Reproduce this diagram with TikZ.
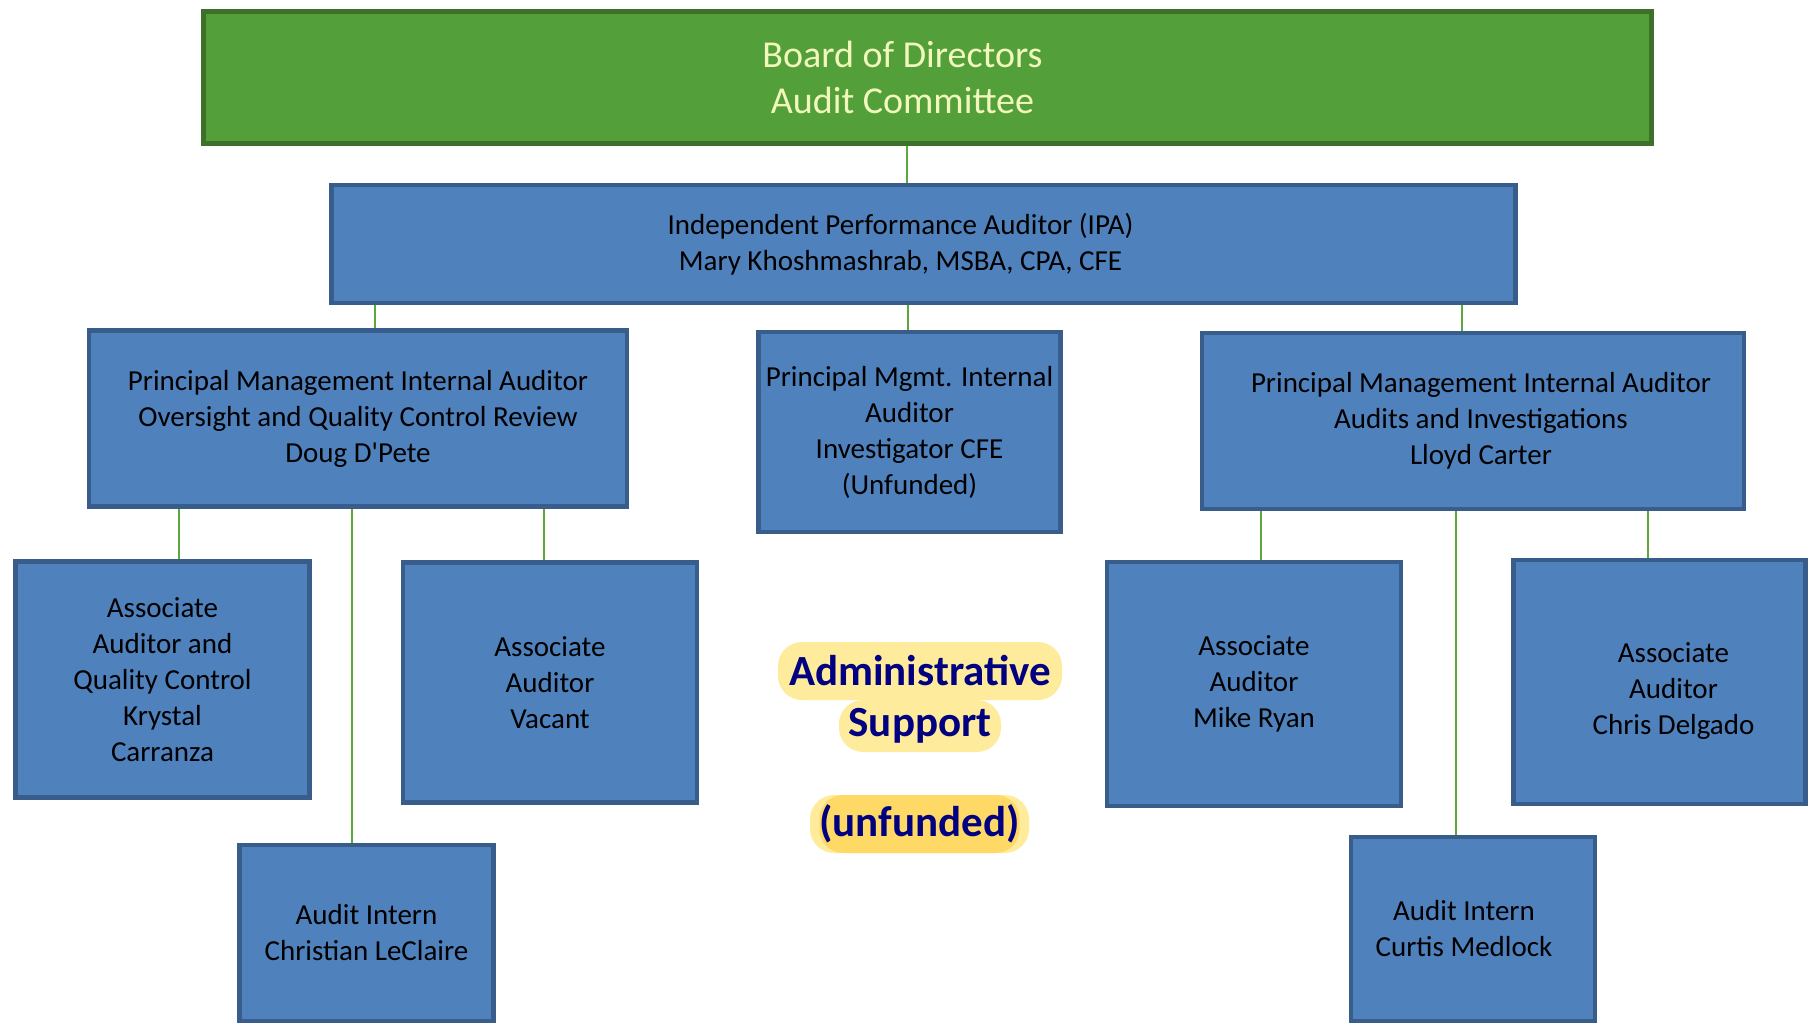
\documentclass[tikz,border=0pt]{standalone}
\usepackage{fontspec}
\setmainfont{Carlito}
\definecolor{boxblue}{RGB}{79,129,189}
\definecolor{boxedge}{RGB}{56,93,138}
\definecolor{boardgreen}{RGB}{83,160,58}
\definecolor{boardedge}{RGB}{61,112,41}
\definecolor{linkgreen}{RGB}{94,168,59}
\definecolor{titletext}{RGB}{242,248,188}
\definecolor{hilite}{RGB}{255,235,156}
\definecolor{hilitedark}{RGB}{255,217,102}
\definecolor{navytext}{RGB}{0,0,128}

\tikzset{every picture/.style={line width=0.75pt}}
\tikzset{
  orgbox/.style={draw=boxedge, fill=boxblue, line width=2.25pt, align=center, inner sep=0pt,
    font=\fontsize{14.5}{18}\selectfont},
  boardbox/.style={draw=boardedge, fill=boardgreen, line width=2.5pt, align=center, inner sep=0pt,
    text=titletext, font=\fontsize{19}{23}\selectfont},
  link/.style={draw=linkgreen, line width=1pt},
  adminlbl/.style={fill=hilite, rounded corners=12pt, inner sep=0pt, text=navytext,
    font=\bfseries\fontsize{21.5}{25}\selectfont}
}

\begin{document}
\begin{tikzpicture}[x=0.5pt,y=0.5pt,yscale=-1,xscale=1]
\useasboundingbox (0,0) rectangle (1811,1025);

% Board
\node[boardbox, minimum width=724pt, minimum height=66pt] (board) at (927.5,77.5) {Board of Directors\hspace*{25pt}\\Audit Committee\hspace*{25pt}};
% IPA
\node[orgbox, minimum width=592pt, minimum height=59pt] (ipa) at (923.5,244) {Independent Performance Auditor (IPA)\hspace*{23pt}\\Mary Khoshmashrab, MSBA, CPA, CFE\hspace*{23pt}};

% Principal auditors
\node[orgbox, minimum width=269pt, minimum height=88pt] (pmiaL) at (358,418.5) {Principal Management Internal Auditor\\Oversight and Quality Control Review\\Doug D\textquotesingle Pete};
\node[orgbox, minimum width=151pt, minimum height=100pt] (pmiaM) at (909.5,432) {Principal Mgmt. Internal\\Auditor\\Investigator CFE\\(Unfunded)};
\node[orgbox, minimum width=271pt, minimum height=88pt] (pmiaR) at (1473,421) {\hspace*{8pt}Principal Management Internal Auditor\\\hspace*{8pt}Audits and Investigations\\\hspace*{8pt}Lloyd Carter};

% Staff, left
\node[orgbox, minimum width=147pt, minimum height=118pt] (aqc) at (162.5,679.5) {Associate\\Auditor and\\Quality Control\\Krystal\\Carranza};
\node[orgbox, minimum width=147pt, minimum height=120pt] (vacant) at (550,682.5) {Associate\\Auditor\\Vacant};
\node[orgbox, minimum width=127pt, minimum height=88pt] (internL) at (366.5,933) {Audit Intern\\Christian LeClaire};

% Staff, right
\node[orgbox, minimum width=147pt, minimum height=122pt] (ryan) at (1254,684) {Associate\\Auditor\\Mike Ryan};
\node[orgbox, minimum width=146pt, minimum height=122pt] (delgado) at (1659.5,682) {\\[1pt]\hspace*{14pt}Associate\\\hspace*{14pt}Auditor\\\hspace*{14pt}Chris Delgado};
\node[orgbox, minimum width=122pt, minimum height=92pt] (internR) at (1473,929) {Audit Intern\hspace*{9pt}\\Curtis Medlock\hspace*{9pt}};

% Admin support
\node[adminlbl, minimum width=142pt, minimum height=29pt] (admin) at (920,671) {Administrative};
\node[adminlbl, minimum width=81pt, minimum height=26pt] (support) at (920,726) {Support};
\node[adminlbl, minimum width=109.5pt, minimum height=29pt] (unfbg) at (919.5,824) {};
\node[adminlbl, fill=hilitedark, minimum width=92.5pt, minimum height=29pt] (unf) at (919.5,824) {(unfunded)};

% Connectors
\draw[link] ([xshift=-10.25pt]board.south) -- ([xshift=-10.25pt]board.south |- ipa.north);
\draw[link] ([xshift=8.5pt]pmiaL.north) -- ([xshift=8.5pt]pmiaL.north |- ipa.south);
\draw[link] ([xshift=-0.75pt]pmiaM.north) -- ([xshift=-0.75pt]pmiaM.north |- ipa.south);
\draw[link] ([xshift=-5.5pt]pmiaR.north) -- ([xshift=-5.5pt]pmiaR.north |- ipa.south);
\draw[link] ([xshift=8.25pt]aqc.north) -- ([xshift=8.25pt]aqc.north |- pmiaL.south);
\draw[link] ([xshift=-7.25pt]internL.north) -- ([xshift=-7.25pt]internL.north |- pmiaL.south);
\draw[link] ([xshift=-3pt]vacant.north) -- ([xshift=-3pt]vacant.north |- pmiaL.south);
\draw[link] ([xshift=3.5pt]ryan.north) -- ([xshift=3.5pt]ryan.north |- pmiaR.south);
\draw[link] ([xshift=-8.5pt]internR.north) -- ([xshift=-8.5pt]internR.north |- pmiaR.south);
\draw[link] ([xshift=-5.75pt]delgado.north) -- ([xshift=-5.75pt]delgado.north |- pmiaR.south);

\end{tikzpicture}
\end{document}
